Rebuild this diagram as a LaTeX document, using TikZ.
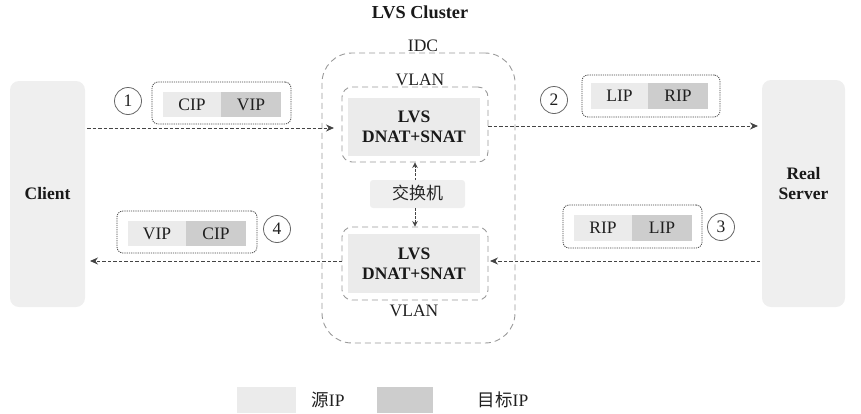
\documentclass[tikz,border=0pt]{standalone}
\usepackage{fontspec}
\setmainfont{Liberation Serif}
\newfontfamily\cjk{Noto Sans CJK SC}
\usetikzlibrary{arrows.meta}
\definecolor{boxfill}{HTML}{EFEFEF}
\definecolor{srcfill}{HTML}{EBEBEB}
\definecolor{dstfill}{HTML}{CDCDCD}
\definecolor{dashgray}{HTML}{9A9A9A}
\definecolor{arrgray}{HTML}{444444}
\tikzset{
  txt/.style={font=\fontsize{17.5}{20}\selectfont, text=black!88, inner sep=0pt},
  btxt/.style={font=\bfseries\fontsize{17.5}{20}\selectfont, text=black!90, inner sep=0pt, align=center},
  endbox/.style={fill=boxfill, draw=none, rounded corners=9pt, minimum width=#1, inner sep=0pt},
  zone/.style={draw=dashgray, line width=0.9pt, dash pattern=on 6pt off 4pt, rounded corners=#1, inner sep=0pt},
  lvsbox/.style={fill=srcfill, draw=none, minimum width=132pt, minimum height=58pt, inner sep=0pt, btxt},
  pkt/.style={draw=arrgray, line width=0.8pt, dash pattern=on 1.2pt off 1pt, rounded corners=6pt, inner sep=0pt},
  srccell/.style={fill=srcfill, minimum width=58pt, minimum height=25pt, inner sep=0pt, txt},
  dstcell/.style={fill=dstfill, minimum width=60pt, minimum height=25pt, inner sep=0pt, txt},
  numc/.style={circle, draw=black!60, line width=0.8pt, minimum size=27pt, inner sep=0pt, txt},
  flow/.style={draw=arrgray, line width=1pt, dash pattern=on 3.5pt off 2pt, -{Stealth[length=8pt,width=7pt]}},
}
\begin{document}
\begin{tikzpicture}[x=1pt,y=-1pt]
\useasboundingbox (0,0) rectangle (861,413);
% title
\node[btxt, font=\bfseries\fontsize{18.3}{20}\selectfont] (title) at (420,12) {LVS Cluster};
% end hosts
\node[endbox=75pt, minimum height=226pt] (client) at (47.5,194) {};
\node[btxt] (clientlbl) at (47.5,194) {Client};
\node[endbox=83pt, minimum height=227pt] (rs) at (803.5,193.5) {};
\node[btxt] (rslbl) at (803.5,184) {Real\\Server};
% IDC
\node[zone=30pt, minimum width=193pt, minimum height=290pt] (idc) at (418.5,198) {};
\node[txt] (idclbl) at (423,46) {IDC};
% VLAN top
\node[zone=10pt, minimum width=146pt, minimum height=75pt] (vt) at (415,124.5) {};
\node[txt] (vtlbl) at (420,80) {VLAN};
\node[lvsbox] (lt) at (414,127) {LVS\\DNAT+SNAT};
% switch
\node[fill=boxfill, rounded corners=3pt, minimum width=95pt, minimum height=28pt, inner sep=0pt] (sw) at (417.5,194) {};
\node[inner sep=0pt, text=black!85, font=\cjk\fontsize{17}{20}\selectfont] (swlbl) at (417.5,193) {交换机};
% VLAN bottom
\node[zone=10pt, minimum width=146pt, minimum height=73pt] (vb) at (415,263.5) {};
\node[lvsbox, minimum height=59pt] (lb) at (414,263.5) {LVS\\DNAT+SNAT};
\node[txt] (vblbl) at (414,311) {VLAN};
% switch arrows
\coordinate (swt) at (415,180);
\coordinate (swb) at (415,208);
\draw[flow, line width=0.8pt, dash pattern=on 2.5pt off 1.6pt, -{Stealth[length=5.5pt,width=5.5pt]}] (swt) -- (swt |- vt.south);
\draw[flow, line width=0.8pt, dash pattern=on 2.5pt off 1.6pt, -{Stealth[length=5.5pt,width=5.5pt]}] (swb) -- (swb |- vb.north);
% flows
\coordinate (a1s) at (87,128);
\coordinate (a1e) at (334,128);
\draw[flow] (a1s) -- (a1e);
\coordinate (a2s) at (488,126);
\coordinate (a2e) at (758,126);
\draw[flow] (a2s) -- (a2e);
\coordinate (a3s) at (760,261);
\coordinate (a3e) at (490,261);
\draw[flow] (a3s) -- (a3e);
\coordinate (a4s) at (342,261);
\coordinate (a4e) at (90,261);
\draw[flow] (a4s) -- (a4e);
% packet 1
\node[pkt, minimum width=139pt, minimum height=42pt] (p1) at (221.5,103) {};
\node[srccell] (p1a) at (192,104.5) {CIP};
\node[dstcell] (p1b) at (251,104.5) {VIP};
\node[numc] (n1) at (128,101) {1};
% packet 2
\node[pkt, minimum width=138pt, minimum height=42pt] (p2) at (651,96) {};
\node[srccell, minimum width=57pt, minimum height=26pt] (p2a) at (619.5,96) {LIP};
\node[dstcell, minimum height=26pt] (p2b) at (678,96) {RIP};
\node[numc] (n2) at (554,100) {2};
% packet 3
\node[pkt, minimum width=139pt, minimum height=43pt] (p3) at (632.5,226.5) {};
\node[srccell, minimum height=26pt] (p3a) at (603,228) {RIP};
\node[dstcell, minimum height=26pt] (p3b) at (662,228) {LIP};
\node[numc] (n3) at (721,227) {3};
% packet 4
\node[pkt, minimum width=140pt, minimum height=42pt] (p4) at (187,232) {};
\node[srccell] (p4a) at (157,233.5) {VIP};
\node[dstcell] (p4b) at (216,233.5) {CIP};
\node[numc] (n4) at (277,229) {4};
% legend
\node[fill=srcfill, minimum width=59pt, minimum height=26pt, inner sep=0pt] (lg1) at (266.5,400) {};
\node[txt] (lg1t) at (328,400) {{\cjk 源}IP};
\node[fill=dstfill, minimum width=56pt, minimum height=26pt, inner sep=0pt] (lg2) at (405,400) {};
\node[txt] (lg2t) at (503,400) {{\cjk 目标}IP};
\end{tikzpicture}
\end{document}
